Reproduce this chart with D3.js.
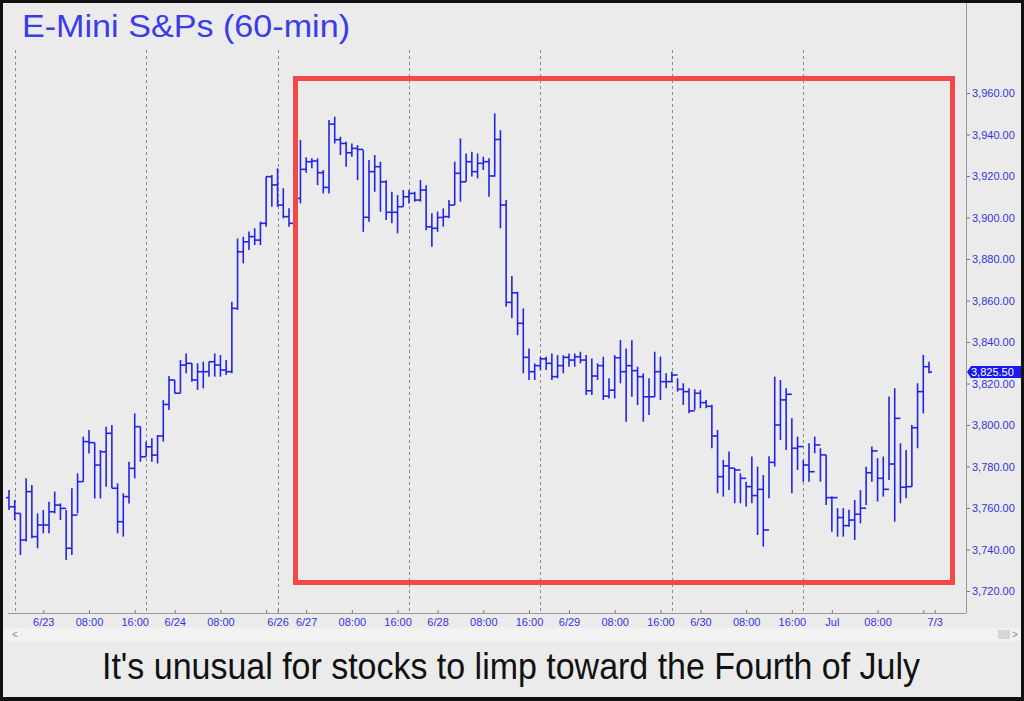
<!DOCTYPE html>
<html><head><meta charset="utf-8">
<script src="https://cdn.jsdelivr.net/npm/d3@7"></script>
<style>html,body{margin:0;padding:0;background:#000;}svg{display:block;}</style>
</head><body>
<script>
// ---- data (hourly bars, E-Mini S&P, 60-min) ----
const opens = [3765.0,3760.6,3757.4,3744.6,3767.9,3746.2,3751.8,3751.8,3758.2,3761.4,
3759.8,3740.6,3756.6,3772.7,3792.0,3791.5,3780.7,3787.1,3796.0,3769.5,
3753.4,3765.5,3779.1,3799.2,3784.7,3789.5,3785.5,3794.7,3809.9,3821.7,
3815.3,3828.9,3829.7,3821.7,3825.7,3825.7,3830.5,3828.9,3826.5,3825.7,
3856.2,3883.5,3888.3,3890.8,3889.1,3897.2,3919.7,3915.7,3906.0,3900.4,
3897.2,3909.2,3923.2,3926.9,3927.2,3921.6,3914.5,3945.0,3937.5,3935.7,
3931.2,3933.3,3932.8,3900.1,3922.1,3924.5,3917.2,3902.5,3902.5,3905.2,
3910.0,3911.6,3908.4,3913.2,3895.5,3894.8,3900.0,3900.4,3906.0,3921.3,
3917.2,3926.9,3922.1,3926.1,3926.9,3920.0,3937.6,3906.0,3859.1,3863.7,
3849.0,3832.6,3825.7,3828.6,3831.9,3829.7,3823.3,3828.6,3832.6,3831.3,
3832.9,3831.3,3816.5,3823.6,3828.6,3813.9,3816.8,3832.4,3825.7,3828.6,
3826.2,3823.3,3813.6,3813.6,3825.7,3820.9,3820.9,3824.1,3817.2,3816.1,
3806.8,3815.3,3810.8,3809.0,3794.7,3775.1,3780.3,3779.2,3778.3,3774.3,
3770.3,3766.0,3769.0,3749.4,3782.0,3800.0,3812.1,3814.8,3788.8,3789.6,
3780.7,3777.5,3790.4,3785.6,3765.0,3765.0,3755.4,3751.5,3754.2,3757.0,
3759.9,3777.0,3787.5,3774.3,3769.0,3781.2,3803.2,3770.0,3770.3,3798.7,
3816.1,3828.1];
const highs = [3768.7,3763.8,3757.4,3774.3,3771.1,3757.4,3759.0,3763.0,3767.9,3762.2,
3759.0,3769.5,3776.7,3794.4,3797.6,3791.5,3787.9,3799.2,3800.0,3771.9,
3767.1,3782.3,3805.6,3799.2,3792.0,3793.6,3795.2,3812.0,3823.6,3821.7,
3831.3,3834.5,3829.7,3829.7,3830.5,3830.5,3834.5,3833.7,3831.3,3859.4,
3889.9,3890.7,3893.2,3894.8,3898.0,3919.7,3920.5,3923.7,3914.1,3904.4,
3911.0,3937.3,3929.0,3928.5,3928.5,3922.9,3947.0,3948.6,3938.9,3936.5,
3935.7,3934.9,3932.5,3927.7,3930.1,3926.9,3918.0,3912.4,3910.8,3913.2,
3913.2,3912.4,3918.0,3915.6,3902.0,3902.8,3904.4,3908.4,3926.9,3938.1,
3930.9,3931.7,3930.9,3929.3,3928.5,3950.2,3942.1,3908.4,3871.8,3864.2,
3856.2,3836.9,3829.7,3832.9,3832.9,3834.5,3833.7,3833.7,3834.5,3834.5,
3835.3,3833.7,3832.1,3829.7,3832.9,3822.5,3833.7,3840.9,3836.9,3840.9,
3828.1,3824.9,3822.5,3835.3,3833.0,3824.9,3825.7,3822.5,3820.1,3817.7,
3817.2,3816.9,3812.0,3809.7,3797.6,3783.2,3787.2,3779.2,3776.7,3772.7,
3784.8,3780.0,3775.9,3785.0,3823.3,3821.7,3817.7,3803.2,3794.4,3783.1,
3791.2,3794.4,3788.8,3785.6,3765.5,3759.9,3759.9,3759.1,3763.9,3768.7,
3779.9,3789.6,3784.0,3784.8,3813.7,3817.7,3791.2,3788.0,3800.0,3820.1,
3833.8,3830.5];
const lows = [3759.0,3754.2,3737.3,3743.8,3745.4,3740.6,3747.8,3747.8,3757.4,3754.2,
3734.9,3737.3,3757.4,3772.7,3786.3,3764.6,3764.6,3770.3,3769.5,3747.8,
3746.2,3762.2,3774.3,3782.3,3784.7,3782.3,3781.5,3792.0,3807.2,3815.3,
3815.3,3824.9,3820.9,3816.9,3817.7,3823.3,3823.3,3823.3,3824.1,3824.9,
3855.4,3877.9,3884.3,3886.7,3886.7,3895.6,3905.2,3905.2,3899.6,3895.6,
3895.0,3906.8,3921.6,3923.7,3915.6,3911.6,3911.6,3935.7,3930.1,3924.5,
3929.3,3918.0,3893.1,3898.0,3912.4,3902.8,3898.8,3897.2,3892.3,3905.2,
3906.8,3907.6,3907.6,3893.9,3885.9,3893.1,3895.6,3899.6,3906.0,3907.6,
3917.2,3919.7,3918.8,3922.9,3910.0,3919.7,3894.8,3857.0,3851.4,3843.3,
3824.9,3821.7,3821.7,3826.5,3826.5,3821.7,3822.5,3824.9,3828.1,3828.1,
3829.7,3814.4,3814.4,3821.7,3812.0,3812.8,3812.8,3820.1,3801.6,3813.6,
3809.6,3801.6,3804.8,3813.6,3812.1,3817.7,3820.9,3816.1,3809.7,3805.7,
3807.3,3808.1,3808.1,3788.8,3767.1,3765.5,3768.7,3762.3,3762.3,3760.7,
3762.3,3747.0,3741.4,3764.7,3780.0,3792.8,3788.0,3767.1,3778.3,3772.7,
3772.7,3786.4,3772.7,3761.5,3748.6,3746.2,3746.2,3751.0,3744.6,3752.6,
3761.5,3772.7,3763.1,3765.5,3773.5,3753.4,3762.3,3764.7,3770.3,3788.8,
3805.6,3825.0];
const closes = [3760.6,3757.4,3744.6,3767.9,3746.2,3751.8,3751.8,3758.2,3761.4,3759.8,
3740.6,3756.6,3772.7,3792.0,3791.5,3780.7,3787.1,3796.0,3769.5,3753.4,
3765.5,3779.1,3799.2,3784.7,3789.5,3785.5,3794.7,3809.9,3821.7,3815.3,
3828.9,3829.7,3821.7,3825.7,3825.7,3830.5,3828.9,3826.5,3825.7,3856.2,
3883.5,3888.3,3890.8,3889.1,3897.2,3919.7,3915.7,3906.0,3900.4,3897.2,
3909.2,3923.2,3926.9,3927.2,3921.6,3914.5,3945.0,3937.5,3935.7,3931.2,
3933.3,3932.8,3900.1,3922.1,3924.5,3917.2,3902.5,3902.5,3905.2,3910.0,
3911.6,3908.4,3913.2,3895.5,3894.8,3900.0,3900.4,3906.0,3921.3,3917.2,
3926.9,3922.1,3926.1,3926.9,3920.0,3937.6,3906.0,3859.1,3863.7,3849.0,
3832.6,3825.7,3828.6,3831.9,3829.7,3823.3,3828.6,3832.6,3831.3,3832.9,
3831.3,3816.5,3823.6,3828.6,3813.9,3816.8,3832.4,3825.7,3828.6,3826.2,
3823.3,3813.6,3813.6,3825.7,3820.9,3820.9,3824.1,3817.2,3816.1,3806.8,
3815.3,3810.8,3809.0,3794.7,3775.1,3780.3,3779.2,3778.3,3774.3,3770.3,
3766.0,3769.0,3749.4,3782.0,3800.0,3812.1,3814.8,3788.8,3789.6,3780.7,
3777.5,3790.4,3785.6,3765.0,3765.0,3755.4,3751.5,3754.2,3757.0,3759.9,
3777.0,3787.5,3774.3,3769.0,3781.2,3803.2,3770.0,3770.3,3798.7,3816.1,
3828.1,3825.5];
const sessionStarts = [1, 24, 47, 70, 93, 116, 139];
const xTickIdx    = [6, 14, 22, 29, 37, 45, 47, 52, 60, 68, 75, 83, 91, 98, 106, 114, 121, 129, 137, 144, 152, 160, 162];
const xTickLabels = ["6/23","08:00","16:00","6/24","08:00","","6/26","6/27","08:00","16:00","6/28","08:00","16:00","6/29","08:00","16:00","6/30","08:00","16:00","Jul","08:00","","7/3"];
const yTicks = [3720,3740,3760,3780,3800,3820,3840,3860,3880,3900,3920,3940,3960];
const lastPrice = 3825.50;
const title = "E-Mini S&Ps (60-min)";
const caption = "It's unusual for stocks to limp toward the Fourth of July";

// ---- drawing ----
const W = 1024, H = 701;
const svg = d3.select("body").append("svg").attr("width", W).attr("height", H);
const blue = "#2424e6", txtBlue = "#3434dc";

svg.append("rect").attr("x",0).attr("y",0).attr("width",W).attr("height",H).attr("fill","#111");
svg.append("rect").attr("x",3).attr("y",3).attr("width",W-6).attr("height",H-7).attr("fill","#ebebeb");

const x = d3.scaleLinear().domain([0, 161]).range([9, 929]);
const y = d3.scaleLinear().domain([3720, 3960]).range([591, 93]);
const axisX = 966, axisY = 613;

// gridlines
svg.append("g").selectAll("line").data(sessionStarts).join("line")
  .attr("x1", d => Math.round(x(d)) + 0.5).attr("x2", d => Math.round(x(d)) + 0.5)
  .attr("y1", 50).attr("y2", axisY)
  .attr("stroke", "#8a8a8a").attr("stroke-width", 1).attr("stroke-dasharray", "3,3");

// y axis
const yAxis = d3.axisRight(y).tickValues(yTicks).tickSize(4).tickPadding(2)
  .tickFormat(d => d3.format(",.2f")(d));
const gy = svg.append("g").attr("transform", `translate(${axisX},0)`).call(yAxis);
gy.select(".domain").remove();
gy.selectAll(".tick line").attr("stroke", "#777");
gy.selectAll(".tick text").attr("fill", txtBlue).attr("font-family", "Arial, 'Liberation Sans', sans-serif").attr("font-size", 11);
svg.append("line").attr("x1", axisX+0.5).attr("x2", axisX+0.5).attr("y1", 3).attr("y2", axisY)
  .attr("stroke", "#9a9a9a").attr("stroke-width", 1);

// x axis
const xAxis = d3.axisBottom(x).tickValues(xTickIdx).tickSize(4).tickPadding(4)
  .tickFormat((d, i) => xTickLabels[i]);
const gx = svg.append("g").attr("transform", `translate(0,${axisY - 3})`).call(xAxis);
gx.select(".domain").remove();
gx.selectAll(".tick line").attr("stroke", "#777");
gx.selectAll(".tick text").attr("fill", txtBlue).attr("font-family", "Arial, 'Liberation Sans', sans-serif").attr("font-size", 11);
svg.append("line").attr("x1", 8).attr("x2", axisX).attr("y1", axisY+0.5).attr("y2", axisY+0.5)
  .attr("stroke", "#9a9a9a");

// scrollbar strip
svg.append("rect").attr("x", 3).attr("y", 628).attr("width", W-6).attr("height", 13).attr("fill", "#f2f2f2");
svg.append("text").attr("x", 12).attr("y", 638).attr("font-size", 10).attr("fill", "#888").attr("font-family","Arial").text("<");
svg.append("rect").attr("x", 998).attr("y", 630).attr("width", 12).attr("height", 9).attr("fill", "#d6d6d6");
svg.append("text").attr("x", 1012).attr("y", 638).attr("font-size", 10).attr("fill", "#888").attr("font-family","Arial").text(">");

// OHLC bars
const idx = d3.range(closes.length);
const gb = svg.append("g").attr("stroke", blue).attr("stroke-width", 1.6).attr("fill", "none");
gb.selectAll("line.hl").data(idx).join("line").attr("class","hl")
  .attr("x1", i => x(i)).attr("x2", i => x(i))
  .attr("y1", i => y(highs[i])).attr("y2", i => y(lows[i]));
gb.selectAll("line.op").data(idx).join("line").attr("class","op")
  .attr("x1", i => x(i) - 3).attr("x2", i => x(i))
  .attr("y1", i => y(opens[i])).attr("y2", i => y(opens[i]));
gb.selectAll("line.cl").data(idx).join("line").attr("class","cl")
  .attr("x1", i => x(i)).attr("x2", i => x(i) + 3)
  .attr("y1", i => y(closes[i])).attr("y2", i => y(closes[i]));

// red highlight box
svg.append("rect").attr("x", 295.5).attr("y", 78.5).attr("width", 657).attr("height", 504)
  .attr("fill", "none").attr("stroke", "#f24848").attr("stroke-width", 5);

// last price marker
const ly = y(lastPrice);
svg.append("path").attr("d", `M${axisX+1},${ly} L${axisX+5},${ly-6} L1021,${ly-6} L1021,${ly+6} L${axisX+5},${ly+6} Z`)
  .attr("fill", "#1a1af0");
svg.append("text").attr("x", 971).attr("y", ly + 4).attr("fill", "#fff")
  .attr("font-family", "Arial, 'Liberation Sans', sans-serif").attr("font-size", 11).text(d3.format(",.2f")(lastPrice));

// title
svg.append("text").attr("x", 22).attr("y", 37).attr("fill", "#3c3ce6")
  .attr("font-family", "Arial, 'Liberation Sans', sans-serif").attr("font-size", 31)
  .attr("textLength", 328).attr("lengthAdjust", "spacingAndGlyphs").text(title);

// caption
svg.append("text").attr("x", 102).attr("y", 679).attr("fill", "#111")
  .attr("font-family", "Arial, 'Liberation Sans', sans-serif").attr("font-size", 37)
  .attr("textLength", 818).attr("lengthAdjust", "spacingAndGlyphs").text(caption);
</script>
</body></html>
